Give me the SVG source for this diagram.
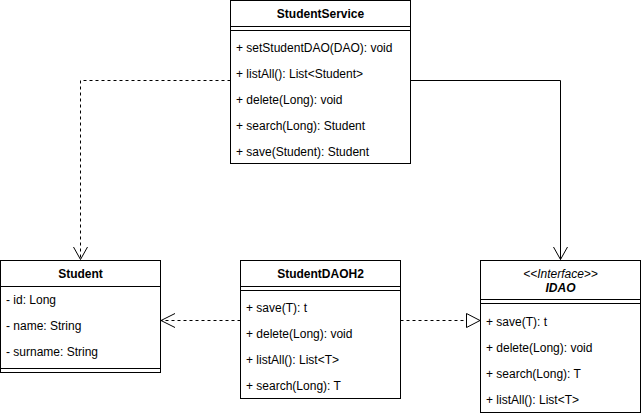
<svg xmlns="http://www.w3.org/2000/svg" width="641" height="416" viewBox="0 0 641 416">
  <style>
    .box { fill: #ffffff; stroke: #000000; stroke-width: 1; }
    .sep { stroke: #000000; stroke-width: 1; fill: none; }
    .title { font-family: "Liberation Sans", Arial, sans-serif; font-size: 12px; font-weight: bold; fill: #000000; text-anchor: middle; }
    .item { font-family: "Liberation Sans", Arial, sans-serif; font-size: 12px; fill: #000000; }
    .ital { font-style: italic; }
    .edge { fill: none; stroke: #000000; stroke-width: 1; }
    .dash { stroke-dasharray: 3 3; }
    .head { fill: none; stroke: #000000; stroke-width: 1; }
    .tri { fill: #ffffff; stroke: #000000; stroke-width: 1; }
  </style>
  <rect width="641" height="416" fill="#ffffff"/>

  <g id="connectors">
    <!-- StudentService -> Student (dependency) -->
    <path class="edge dash" d="M230.5 80.5 H80.5 V259.5"/>
    <path class="head" d="M73.5 247 L80.5 259.5 L87.5 247"/>
    <!-- StudentService -> IDAO (association) -->
    <path class="edge" d="M410.5 80.5 H560.5 V259.5"/>
    <path class="head" d="M553.5 247 L560.5 259.5 L567.5 247"/>
    <!-- StudentDAOH2 -> Student (dependency) -->
    <path class="edge dash" d="M240.5 320.5 H161"/>
    <path class="head" d="M175 313.5 L161 320.5 L175 327.5"/>
    <!-- StudentDAOH2 -> IDAO (realization) -->
    <path class="edge dash" d="M400.5 320.5 H466.5"/>
    <path class="tri" d="M466.5 313.5 L480 320.5 L466.5 327.5 Z"/>
  </g>

  <g id="StudentService">
    <rect class="box" x="230.5" y="0.5" width="180" height="163"/>
    <line class="sep" x1="230.5" y1="26.5" x2="410.5" y2="26.5"/>
    <line class="sep" x1="230.5" y1="30.5" x2="410.5" y2="30.5"/>
    <text class="title" x="320.5" y="17.5">StudentService</text>
    <text class="item" x="236" y="51.5">+ setStudentDAO(DAO): void</text>
    <text class="item" x="236" y="77.5">+ listAll(): List&lt;Student&gt;</text>
    <text class="item" x="236" y="103.5">+ delete(Long): void</text>
    <text class="item" x="236" y="129.5">+ search(Long): Student</text>
    <text class="item" x="236" y="155.5">+ save(Student): Student</text>
  </g>

  <g id="Student">
    <rect class="box" x="0.5" y="260.5" width="160" height="112"/>
    <line class="sep" x1="0.5" y1="286.5" x2="160.5" y2="286.5"/>
    <line class="sep" x1="0.5" y1="368.5" x2="160.5" y2="368.5"/>
    <text class="title" x="80.5" y="277.5">Student</text>
    <text class="item" x="6" y="303.5">- id: Long</text>
    <text class="item" x="6" y="329.5">- name: String</text>
    <text class="item" x="6" y="355.5">- surname: String</text>
  </g>

  <g id="StudentDAOH2">
    <rect class="box" x="240.5" y="260.5" width="160" height="138"/>
    <line class="sep" x1="240.5" y1="286.5" x2="400.5" y2="286.5"/>
    <line class="sep" x1="240.5" y1="290.5" x2="400.5" y2="290.5"/>
    <text class="title" x="320.5" y="277.5">StudentDAOH2</text>
    <text class="item" x="246" y="311.5">+ save(T): t</text>
    <text class="item" x="246" y="337.5">+ delete(Long): void</text>
    <text class="item" x="246" y="363.5">+ listAll(): List&lt;T&gt;</text>
    <text class="item" x="246" y="389.5">+ search(Long): T</text>
  </g>

  <g id="IDAO">
    <rect class="box" x="480.5" y="260.5" width="160" height="152"/>
    <line class="sep" x1="480.5" y1="299.5" x2="640.5" y2="299.5"/>
    <line class="sep" x1="480.5" y1="303.5" x2="640.5" y2="303.5"/>
    <text class="item ital" x="560.5" y="277.5" text-anchor="middle">&lt;&lt;Interface&gt;&gt;</text>
    <text class="title ital" x="560.5" y="291.5">IDAO</text>
    <text class="item" x="486" y="325.5">+ save(T): t</text>
    <text class="item" x="486" y="351.5">+ delete(Long): void</text>
    <text class="item" x="486" y="377.5">+ search(Long): T</text>
    <text class="item" x="486" y="403.5">+ listAll(): List&lt;T&gt;</text>
  </g>
</svg>
